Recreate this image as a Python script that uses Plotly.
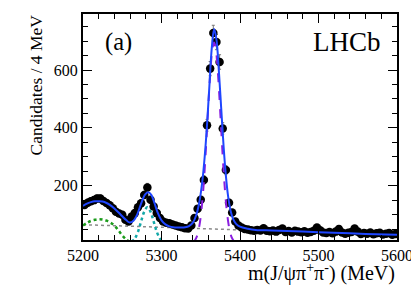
import numpy as np
import plotly.graph_objects as go

# ---- data ----
bin_start = 5202
bin_width = 4
counts = [133, 141, 146, 150, 156, 156, 147, 140, 132, 122,
          110, 104, 99, 82, 76, 93, 105, 125, 139, 168,
          194, 151, 128, 105, 88, 76, 72, 70, 66, 62,
          59, 56, 53, 52, 62, 88, 120, 151, 220, 409,
          605, 728, 697, 628, 398, 254, 141, 107, 76, 62,
          55, 50,
          48, 46, 44, 47, 45, 53, 44, 42, 45, 41,
          47, 52, 40, 43, 38, 44, 41, 39, 42, 37,
          40, 44, 55, 46, 38, 36, 40, 35, 41, 50,
          38, 34, 37, 40, 52, 41, 33, 36, 34, 38,
          32, 35, 37, 31, 34, 36, 30, 33]
mass = [bin_start + bin_width * i for i in range(len(counts))]
errs = [float(np.sqrt(c)) for c in counts]

total_x = [5200, 5205, 5210, 5215, 5220, 5225, 5230, 5235, 5240, 5245, 5250, 5255, 5259,
           5264, 5269, 5274, 5279, 5283, 5287, 5291, 5295, 5300, 5305, 5310, 5315, 5320,
           5325, 5330, 5335, 5340, 5344, 5348, 5352, 5355, 5358, 5361, 5364, 5367, 5370,
           5373, 5376, 5379, 5382, 5385, 5388, 5391, 5395, 5400, 5410, 5420, 5440, 5460,
           5480, 5500, 5530, 5560, 5600]
total_y = [130, 138, 143, 146, 146, 145, 140, 132, 121, 108, 94, 81, 73,
           78, 100, 138, 169, 177, 168, 140, 108, 80, 66, 59, 56, 55,
           55, 56, 60, 72, 96, 140, 215, 300, 410, 545, 675, 742, 705,
           600, 470, 340, 235, 160, 113, 86, 68, 58, 51, 47, 45, 43,
           41, 39, 36, 33, 30]

sig_x = [5339, 5341, 5343, 5345, 5347, 5349, 5351, 5353, 5355, 5357, 5359, 5361, 5363, 5365,
         5367, 5369, 5371, 5373, 5375, 5377, 5379, 5381, 5383, 5385, 5387, 5389, 5391, 5393, 5395]
sig_y = [3, 6, 13, 24, 44, 74, 118, 179, 256, 348, 446, 542, 622, 676,
         695, 676, 622, 542, 446, 348, 256, 179, 118, 74, 44, 24, 13, 6, 3]

bkg_x = [5200, 5300, 5400, 5500, 5600]
bkg_y = [65, 56, 47, 38, 29]

green_x = [5200, 5205, 5210, 5215, 5220, 5225, 5230, 5235, 5240, 5245, 5250, 5255, 5260]
green_y = [62, 71, 78, 82, 84, 83, 79, 72, 62, 46, 28, 14, 5]

cyan_x = [5262, 5266, 5270, 5274, 5278, 5282, 5286, 5290, 5294, 5298, 5302]
cyan_y = [5, 17, 40, 76, 110, 125, 110, 76, 40, 17, 5]

x_ticks = [5200, 5300, 5400, 5500, 5600]
y_ticks = [200, 400, 600]

FONT = "Liberation Serif"

# The page body has an 8px default margin, so the figure is drawn 8px in from
# the window's top-left corner; size it to fill the remaining 411x279.
OFF = 8
W, H = 419 - OFF, 287 - OFF
L, R, T, B = 83 - OFF, 22, 14 - OFF, 47
pw, ph = W - L - R, H - T - B

fig = go.Figure()
fig.add_trace(go.Scatter(x=bkg_x, y=bkg_y, mode="lines",
                         line=dict(color="#8a8a8a", width=1.5, dash="dot")))
fig.add_trace(go.Scatter(x=green_x, y=green_y, mode="lines", line_shape="spline",
                         line=dict(color="#1a9a1a", width=2.5, dash="dot")))
fig.add_trace(go.Scatter(x=cyan_x, y=cyan_y, mode="lines", line_shape="spline",
                         line=dict(color="#13a8a8", width=2.5, dash="dot")))
fig.add_trace(go.Scatter(x=mass, y=counts, mode="markers",
                         marker=dict(color="black", size=8.5),
                         error_y=dict(type="data", array=errs, color="#777777",
                                      thickness=1, width=1.5)))
fig.add_trace(go.Scatter(x=sig_x, y=sig_y, mode="lines", line_shape="spline",
                         line=dict(color="#8a1ee0", width=2, dash="dash")))
fig.add_trace(go.Scatter(x=total_x, y=total_y, mode="lines", line_shape="spline",
                         line=dict(color="#1f46ff", width=2)))

axis_common = dict(showline=True, linecolor="black", linewidth=2, mirror="ticks",
                   ticks="inside", tickcolor="black", tickwidth=1.2, showgrid=False,
                   zeroline=False, automargin=False,
                   tickfont=dict(family=FONT, size=16, color="black"))
fig.update_xaxes(range=[5200, 5600], tickvals=x_ticks, ticklen=9,
                 minor=dict(dtick=20, ticklen=5, ticks="inside", tickcolor="black", tickwidth=1),
                 **axis_common)
fig.update_yaxes(range=[12, 794], tickvals=y_ticks, ticklen=9,
                 minor=dict(dtick=50, ticklen=5, ticks="inside", tickcolor="black", tickwidth=1),
                 **axis_common)

# axis titles (ROOT style: right/top aligned)
fig.add_annotation(x=1.0, y=(H - B - (272 - OFF)) / ph, xref="paper", yref="paper",
                   text="m(J/ψπ<sup>+</sup>π<sup>-</sup>) (MeV)", showarrow=False,
                   xanchor="right", yanchor="middle",
                   font=dict(family=FONT, size=20, color="black"))
fig.add_annotation(x=((35 - OFF) - L) / pw, y=1.0 + 1.0 / ph, xref="paper", yref="paper",
                   text="Candidates / 4 MeV", showarrow=False, textangle=-90,
                   xanchor="center", yanchor="top",
                   font=dict(family=FONT, size=17.5, color="black"))

fig.add_annotation(x=0.065, y=0.875, xref="paper", yref="paper", text="(a)",
                   showarrow=False, xanchor="left", yanchor="middle",
                   font=dict(family=FONT, size=24.5, color="black"))
fig.add_annotation(x=0.955, y=0.875, xref="paper", yref="paper", text="LHCb",
                   showarrow=False, xanchor="right", yanchor="middle",
                   font=dict(family=FONT, size=27, color="black"))

fig.update_layout(width=W, height=H, showlegend=False,
                  plot_bgcolor="white", paper_bgcolor="white",
                  margin=dict(l=L, r=R, t=T, b=B))
fig.write_html("out.html")
